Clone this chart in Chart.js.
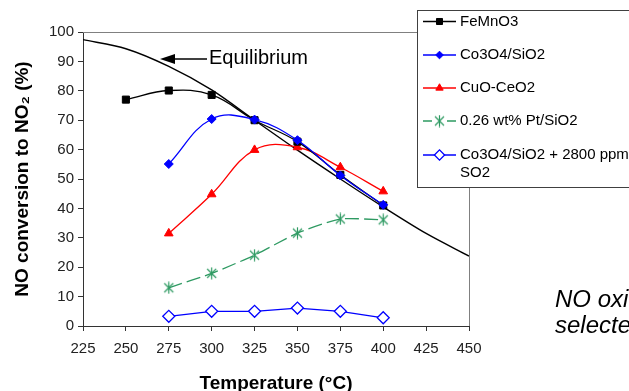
<!DOCTYPE html>
<html>
<head>
<meta charset="utf-8">
<script src="https://cdn.jsdelivr.net/npm/chart.js@4/dist/chart.umd.min.js"></script>
<style>
  html, body { margin: 0; padding: 0; background: #fff; }
  #wrap { width: 629px; height: 391px; position: relative; overflow: hidden; }
</style>
</head>
<body>
<div id="wrap"><canvas id="c" width="629" height="391"></canvas></div>
<script>
// ---- data ----
const eqTemps = [225, 250, 275, 300, 325, 350, 375, 400, 425, 450];
const equilibrium = [97.4, 94.3, 88.3, 80.3, 70.0, 59.8, 50.0, 40.5, 31.5, 23.8];

const femnTemps = [250, 275, 300, 325, 350, 375, 400];
const femno3 = [77.0, 80.1, 78.6, 70.0, 62.7, 51.4, 41.0];

const catTemps = [275, 300, 325, 350, 375, 400];
const co3o4 = [55.1, 70.4, 70.2, 63.2, 51.2, 41.2];
const cuoCeo2 = [31.5, 44.8, 59.9, 60.8, 54.0, 45.8];
const ptSio2 = [13.0, 17.9, 24.1, 31.6, 36.4, 36.1];
const co3o4So2 = [3.3, 5.0, 5.0, 6.1, 5.0, 2.8];

const seriesLabels = ['FeMnO3', 'Co3O4/SiO2', 'CuO-CeO2', '0.26 wt% Pt/SiO2', 'Co3O4/SiO2 + 2800 ppm SO2'];
const xTicks = [225, 250, 275, 300, 325, 350, 375, 400, 425, 450];
const yTicks = [0, 10, 20, 30, 40, 50, 60, 70, 80, 90, 100];

const FONT = '"Liberation Sans", Arial, sans-serif';
const GREEN = '#2e9a62';

function pts(xs, ys) { return xs.map((x, i) => ({ x: x, y: ys[i] })); }

// asterisk marker (X with vertical bar) like Excel's star marker
function starMarker(color) {
  const c = document.createElement('canvas');
  c.width = 13; c.height = 13;
  const g = c.getContext('2d');
  g.strokeStyle = color; g.lineWidth = 1.2;
  g.beginPath();
  g.moveTo(2, 2); g.lineTo(11, 11);
  g.moveTo(11, 2); g.lineTo(2, 11);
  g.moveTo(6.5, 0.5); g.lineTo(6.5, 12.5);
  g.stroke();
  return c;
}
const starImg = starMarker(GREEN);

const datasets = [
  {
    label: seriesLabels[0], data: pts(femnTemps, femno3),
    borderColor: '#000', backgroundColor: '#000', borderWidth: 1.3, tension: 0.4,
    pointStyle: 'rect', pointRadius: 5, pointBackgroundColor: '#000', pointBorderColor: '#000', pointBorderWidth: 1, order: 2
  },
  {
    label: seriesLabels[1], data: pts(catTemps, co3o4),
    borderColor: '#0000ff', backgroundColor: '#0000ff', borderWidth: 1.3, tension: 0.4,
    pointStyle: 'rectRot', pointRadius: 4.5, pointBackgroundColor: '#0000ff', pointBorderColor: '#0000ff', pointBorderWidth: 1, order: 1
  },
  {
    label: seriesLabels[2], data: pts(catTemps, cuoCeo2),
    borderColor: '#ff0000', backgroundColor: '#ff0000', borderWidth: 1.3, tension: 0.4,
    pointStyle: 'triangle', pointRadius: 5, pointBackgroundColor: '#ff0000', pointBorderColor: '#ff0000', pointBorderWidth: 1, order: 3
  },
  {
    label: seriesLabels[3], data: pts(catTemps, ptSio2),
    borderColor: GREEN, backgroundColor: GREEN, borderWidth: 1.3, tension: 0.2, borderDash: [14, 5],
    pointStyle: starImg, pointRadius: 6, pointBackgroundColor: GREEN, pointBorderColor: GREEN, pointBorderWidth: 1, order: 4
  },
  {
    label: seriesLabels[4], data: pts(catTemps, co3o4So2),
    borderColor: '#0000ff', backgroundColor: '#fff', borderWidth: 1.3, tension: 0,
    pointStyle: 'rectRot', pointRadius: 6, pointBackgroundColor: '#fff', pointBorderColor: '#0000ff', pointBorderWidth: 1.3, order: 5
  },
  {
    label: 'Equilibrium', data: pts(eqTemps, equilibrium),
    borderColor: '#000', borderWidth: 1.4, tension: 0.3, pointRadius: 0, order: 6
  }
];

const decor = {
  id: 'decor',
  beforeDatasetsDraw(chart) {
    const ctx = chart.ctx, a = chart.chartArea;
    ctx.save();
    ctx.strokeStyle = '#808080'; ctx.lineWidth = 1;
    ctx.beginPath();
    ctx.moveTo(a.left, Math.round(a.top) + 0.5);
    ctx.lineTo(Math.round(a.right) + 0.5, Math.round(a.top) + 0.5);
    ctx.lineTo(Math.round(a.right) + 0.5, a.bottom);
    ctx.stroke();
    ctx.restore();
  },
  afterDraw(chart) {
    const ctx = chart.ctx;
    ctx.save();
    // Equilibrium arrow + label
    ctx.strokeStyle = '#000'; ctx.fillStyle = '#000'; ctx.lineWidth = 1.5;
    ctx.beginPath(); ctx.moveTo(170, 59); ctx.lineTo(207, 59); ctx.stroke();
    ctx.beginPath(); ctx.moveTo(160, 59); ctx.lineTo(175, 54); ctx.lineTo(175, 64); ctx.closePath(); ctx.fill();
    ctx.font = '20px ' + FONT; ctx.textBaseline = 'alphabetic'; ctx.textAlign = 'left';
    ctx.fillText('Equilibrium', 209, 64);

    // legend box
    const bx = 417, by = 10.5, bw = 240, bh = 177;
    ctx.fillStyle = '#fff'; ctx.fillRect(bx, by, bw, bh);
    ctx.strokeStyle = '#404040'; ctx.lineWidth = 1;
    ctx.strokeRect(bx + 0.5, by, bw, bh);
    const rows = [21.5, 55, 88, 121, 155];
    datasets.slice(0, 5).forEach((ds, i) => {
      const y = rows[i];
      ctx.strokeStyle = ds.borderColor; ctx.lineWidth = 1.3; ctx.setLineDash([]);
      ctx.beginPath();
      if (i === 3) {
        ctx.moveTo(423, y); ctx.lineTo(432, y);
        ctx.moveTo(447, y); ctx.lineTo(456, y);
      } else {
        ctx.moveTo(423, y); ctx.lineTo(456, y);
      }
      ctx.stroke();
      ctx.fillStyle = ds.pointBackgroundColor; ctx.strokeStyle = ds.pointBorderColor;
      ctx.lineWidth = ds.pointBorderWidth;
      Chart.helpers.drawPoint(ctx, {
        pointStyle: ds.pointStyle, rotation: 0,
        radius: (i === 3 ? 6 : ds.pointRadius * 0.85), borderWidth: ds.pointBorderWidth
      }, 439.5, y);
      ctx.fillStyle = '#000'; ctx.font = '15px ' + FONT; ctx.textBaseline = 'middle'; ctx.textAlign = 'left';
      if (i === 4) {
        ctx.fillText('Co3O4/SiO2 + 2800 ppm', 460, y);
        ctx.fillText('SO2', 460, y + 18);
      } else {
        ctx.fillText(ds.label, 460, y);
      }
    });

    // side caption (clipped by the picture edge, as in the original)
    ctx.fillStyle = '#000'; ctx.font = 'italic 24px ' + FONT; ctx.textBaseline = 'alphabetic';
    ctx.fillText('NO oxidation over', 555, 307);
    ctx.fillText('selected catalysts', 555, 333);
    ctx.restore();
  }
};

new Chart(document.getElementById('c'), {
  type: 'line',
  data: { datasets: datasets },
  options: {
    responsive: false,
    animation: false,
    layout: { padding: { left: 0, right: 160, top: 32, bottom: 0 } },
    plugins: { legend: { display: false }, tooltip: { enabled: false } },
    scales: {
      x: {
        type: 'linear', min: 225, max: 450,
        afterBuildTicks: s => { s.ticks = xTicks.map(v => ({ value: v })); },
        afterFit: s => { s.height = 65; },
        grid: { drawOnChartArea: false, drawTicks: true, tickLength: 5, color: '#333' },
        border: { color: '#333', width: 1 },
        ticks: { color: '#222', padding: 9, maxRotation: 0, font: { family: FONT, size: 15 } },
        title: { display: true, text: 'Temperature (°C)', color: '#000', padding: { top: 0, bottom: -4 },
                 font: { family: FONT, size: 19, weight: 'bold' } }
      },
      y: {
        min: 0, max: 100,
        afterBuildTicks: s => { s.ticks = yTicks.map(v => ({ value: v })); },
        afterFit: s => { s.width = 83; },
        grid: { drawOnChartArea: false, drawTicks: true, tickLength: 5, color: '#333' },
        border: { color: '#333', width: 1 },
        ticks: { color: '#222', padding: 4, font: { family: FONT, size: 15 } },
        title: { display: true, text: 'NO conversion to NO₂ (%)', color: '#000', padding: { top: 11, bottom: 0 },
                 font: { family: FONT, size: 19, weight: 'bold' } }
      }
    }
  },
  plugins: [decor]
});
</script>
</body>
</html>
